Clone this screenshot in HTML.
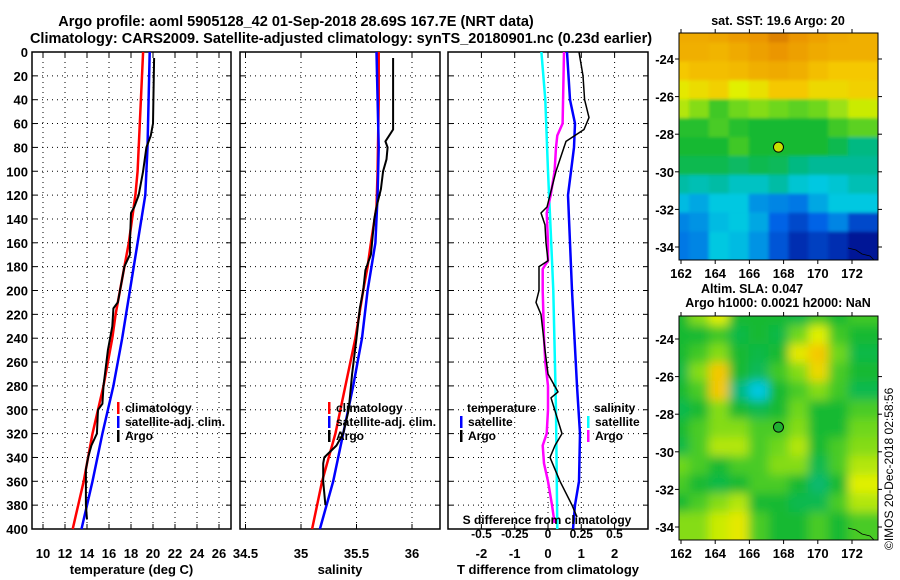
<!DOCTYPE html>
<html><head><meta charset="utf-8"><style>
body{margin:0;background:#fff}
svg{display:block;font-family:"Liberation Sans",sans-serif;font-weight:bold}
</style></head><body>
<svg id="c" width="900" height="580" viewBox="0 0 900 580" xmlns="http://www.w3.org/2000/svg">
<defs>
<filter id="blur"><feGaussianBlur stdDeviation="5"/></filter>
<filter id="blur1"><feGaussianBlur stdDeviation="1.5"/></filter>
<clipPath id="clip1"><rect x="679" y="33" width="199" height="227"/></clipPath>
<clipPath id="clip2"><rect x="679" y="316" width="199" height="224"/></clipPath>
<clipPath id="clip3"><rect x="448" y="52" width="200" height="477"/></clipPath>
</defs>
<text x="296" y="26" font-size="14.5" text-anchor="middle">Argo profile: aoml 5905128_42 01-Sep-2018 28.69S 167.7E (NRT data)</text>
<text x="341" y="43" font-size="14.5" text-anchor="middle">Climatology: CARS2009. Satellite-adjusted climatology: synTS_20180901.nc (0.23d earlier)</text>
<text x="778" y="25" font-size="12.5" text-anchor="middle">sat. SST: 19.6 Argo: 20</text>
<text x="752" y="293" font-size="12.5" text-anchor="middle">Altim. SLA: 0.047</text>
<text x="778" y="307" font-size="12.5" text-anchor="middle">Argo h1000: 0.0021 h2000: NaN</text>
<text transform="translate(893,550) rotate(-90)" font-size="12" font-weight="normal">©IMOS 20-Dec-2018 02:58:56</text>
<g id="g"></g>
</svg>
<script>
// ---- profile data ----
const tClimDepth=[0,20,40,60,80,100,120,140,160,180,200,220,240,260,280,300,320,340,360,380,400];
const tClim=[19.1,19.0,18.9,18.8,18.7,18.6,18.4,18.1,17.8,17.4,17.0,16.6,16.3,15.9,15.5,15.0,14.5,14.1,13.7,13.2,12.7];
const tSatDepth=[0,40,80,120,160,200,240,280,320,360,400];
const tSat=[19.7,19.6,19.5,19.3,18.6,17.9,17.2,16.4,15.4,14.5,13.5];
const tArgoDepth=[5,60,70,80,100,120,130,135,160,170,180,190,200,210,215,230,250,280,295,300,320,330,340,350,380,392];
const tArgo=[20.1,20.0,19.8,19.4,19.1,18.7,18.3,18.0,17.9,17.9,17.4,17.2,17.0,16.8,16.4,16.3,15.9,15.5,15.4,15.0,14.9,14.4,14.1,13.9,13.9,14.0];
const sClimDepth=[0,40,100,130,160,180,200,240,280,320,360,400];
const sClim=[35.70,35.70,35.69,35.68,35.63,35.60,35.56,35.49,35.40,35.31,35.19,35.10];
const sSatDepth=[0,40,80,120,160,200,240,280,320,360,400];
const sSat=[35.68,35.69,35.70,35.69,35.67,35.60,35.55,35.47,35.38,35.29,35.17];
const sArgoDepth=[5,65,75,80,90,100,115,130,140,170,183,200,215,240,270,300,320,330,340,345,360,380];
const sArgo=[35.83,35.83,35.76,35.78,35.77,35.74,35.72,35.68,35.66,35.63,35.58,35.56,35.53,35.50,35.46,35.43,35.38,35.32,35.21,35.20,35.20,35.22];
const dTSatDepth=[0,40,60,80,120,200,280,320,360,380,400];
const dTSat=[0.57,0.66,0.81,0.78,0.60,0.72,0.87,0.96,0.93,0.81,0.75];
const dTArgoDepth=[0,20,40,55,65,75,90,100,110,120,130,135,145,160,175,180,200,210,220,250,270,285,290,320,330,340,360,380,390];
const dTArgo=[0.93,1.05,1.1,1.23,1.08,0.54,0.36,0.24,0.15,0.06,-0.03,-0.21,-0.09,-0.06,0.0,-0.27,-0.27,-0.36,-0.21,-0.09,0.0,0.30,0.09,0.42,0.21,0.06,0.36,0.72,0.87];
const dSSatDepth=[0,40,100,150,200,300,400];
const dSSat=[-0.05,-0.02,0.0,0.02,0.04,0.06,0.07];
const dSArgoDepth=[0,60,70,80,100,120,130,135,160,175,182,200,240,260,280,300,320,330,345,360,380,395];
const dSArgo=[0.12,0.11,0.07,0.06,0.05,0.02,0.0,-0.01,0.0,0.0,-0.04,-0.04,-0.03,-0.02,0.0,0.0,-0.01,-0.04,-0.03,0.0,0.03,0.05];
const depthTicks=[0,20,40,60,80,100,120,140,160,180,200,220,240,260,280,300,320,340,360,380,400];
const tTicks=[10,12,14,16,18,20,22,24,26];
const sTicks=[34.5,35,35.5,36];
const dTTicks=[-2,-1,0,1,2];
const dSTicks=[-0.5,-0.25,0,0.25,0.5];
const lonTicks=[162,164,166,168,170,172];
const latTicks=[-24,-26,-28,-30,-32,-34];
const argoLon=167.7, argoLat=-28.69;
// ---- map grids (colormap index 0..1) ----
const sstGrid=[
[.86,.86,.87,.89,.9,.94,.9,.88,.86,.85],
[.85,.85,.84,.86,.88,.9,.88,.86,.85,.85],
[.8,.82,.82,.83,.85,.86,.85,.82,.8,.8],
[.72,.75,.78,.7,.74,.8,.8,.76,.76,.78],
[.66,.62,.55,.6,.62,.6,.58,.6,.64,.68],
[.52,.52,.56,.52,.5,.5,.5,.5,.55,.58],
[.5,.5,.5,.55,.5,.5,.5,.5,.47,.42],
[.47,.47,.47,.45,.47,.46,.42,.4,.4,.4],
[.38,.36,.38,.34,.34,.38,.32,.3,.32,.36],
[.28,.25,.3,.3,.22,.2,.18,.25,.3,.3],
[.2,.22,.28,.3,.25,.15,.1,.15,.2,.1],
[.18,.2,.3,.28,.22,.12,.05,.08,.05,0]];
const slaGrid=[
[.5,.62,.7,.5,.5,.5,.48,.55,.5,.55],
[.5,.5,.55,.48,.5,.48,.6,.7,.55,.5],
[.5,.55,.62,.5,.48,.5,.72,.8,.6,.48],
[.48,.62,.8,.5,.46,.55,.62,.76,.56,.5],
[.5,.56,.8,.42,.3,.5,.56,.62,.55,.47],
[.47,.5,.62,.5,.47,.5,.6,.5,.5,.56],
[.5,.56,.62,.62,.56,.56,.62,.5,.5,.6],
[.48,.56,.66,.66,.56,.6,.66,.5,.56,.62],
[.6,.56,.5,.56,.56,.62,.62,.47,.56,.66],
[.56,.5,.48,.5,.56,.56,.5,.44,.5,.7],
[.5,.56,.62,.66,.5,.5,.47,.47,.56,.66],
[.62,.62,.68,.72,.56,.5,.5,.56,.5,.56]];

const NS='http://www.w3.org/2000/svg', G=document.getElementById('g');
function el(t,a,p){const e=document.createElementNS(NS,t);for(const k in a)e.setAttribute(k,a[k]);(p||G).appendChild(e);return e;}
const yD=d=>52+d*477/400;
const xT=v=>43+(v-10)*11;
const xS=v=>301+(v-35)*111;
const xDT=v=>548+v*33.3;
const xDS=v=>548+v*133;

function panel(x0,x1,xs,ticks,lbls,name,title,showDepth){
  const r=el('rect',{x:x0,y:52,width:x1-x0,height:477,fill:'#fff',stroke:'#000','stroke-width':1.5});
  
  depthTicks.forEach(d=>{const y=yD(d);
    if(d>0&&d<400){const l=el('line',{x1:x0,x2:x1,y1:y,y2:y,stroke:'#000','stroke-dasharray':'1,4'});
    }
    el('line',{x1:x0,x2:x0+5,y1:y,y2:y,stroke:'#000'});el('line',{x1:x1-5,x2:x1,y1:y,y2:y,stroke:'#000'});
    if(showDepth){const t=el('text',{x:28,y:y+5,'font-size':13,'text-anchor':'end'});t.textContent=d;
      }
  });
  ticks.forEach((v,i)=>{const x=xs(v);
    if(x>x0+2&&x<x1-2){const l=el('line',{x1:x,x2:x,y1:52,y2:529,stroke:'#000','stroke-dasharray':'1,4'});
    }
    el('line',{x1:x,x2:x,y1:529,y2:524,stroke:'#000'});el('line',{x1:x,x2:x,y1:52,y2:57,stroke:'#000'});
    const t=el('text',{x:x,y:558,'font-size':13,'text-anchor':'middle'});t.textContent=lbls[i];
    
  });
  const tt=el('text',{x:(x0+x1)/2,y:574,'font-size':13,'text-anchor':'middle'});tt.textContent=title;
  
}
function line(depths,vals,xs,color,w,name,clip){
  const pts=depths.map((d,i)=>xs(vals[i]).toFixed(1)+','+yD(d).toFixed(1)).join(' ');
  const p=el('polyline',{points:pts,fill:'none',stroke:color,'stroke-width':w,'stroke-linejoin':'round'});
  if(clip)p.setAttribute('clip-path','url(#clip3)');
  
}
function legend(x,y,color,text,name){
  el('rect',{x:x,y:y-10,width:2.5,height:12,fill:color});
  const t=el('text',{x:x+8,y:y,'font-size':12});t.textContent=text;
  
}
panel(32,231,xT,tTicks,tTicks.map(String),'temperature-panel','temperature (deg C)',true);
line(tClimDepth,tClim,xT,'#f00',2.5,'temp-climatology-line');
line(tSatDepth,tSat,xT,'#00f',2.5,'temp-satellite-adj-line');
line(tArgoDepth,tArgo,xT,'#000',2,'temp-argo-line');
legend(117,412,'#f00','climatology','legend-climatology');
legend(117,426,'#00f','satellite-adj. clim.','legend-satellite-adj');
legend(117,440,'#000','Argo','legend-argo');

panel(240,440,xS,sTicks,['34.5','35','35.5','36'],'salinity-panel','salinity',false);
line(sClimDepth,sClim,xS,'#f00',2.5,'sal-climatology-line');
line(sSatDepth,sSat,xS,'#00f',2.5,'sal-satellite-adj-line');
line(sArgoDepth,sArgo,xS,'#000',2,'sal-argo-line');
legend(328,412,'#f00','climatology','legend-climatology-sal');
legend(328,426,'#00f','satellite-adj. clim.','legend-satellite-adj-sal');
legend(328,440,'#000','Argo','legend-argo-sal');

panel(448,648,xDT,dTTicks,dTTicks.map(String),'difference-panel','T difference from climatology',false);
line(dSSatDepth,dSSat,xDS,'#0ff',2.5,'sdiff-satellite-line',true);
line(dSArgoDepth,dSArgo,xDS,'#f0f',2.5,'sdiff-argo-line',true);
line(dTSatDepth,dTSat,xDT,'#00f',2.5,'tdiff-satellite-line',true);
line(dTArgoDepth,dTArgo,xDT,'#000',1.5,'tdiff-argo-line',true);
{let t=el('text',{x:467,y:412,'font-size':12});t.textContent='temperature';
t=el('text',{x:594,y:412,'font-size':12});t.textContent='salinity';}
legend(460,426,'#00f','satellite','legend-t-satellite');
legend(460,440,'#000','Argo','legend-t-argo');
legend(587,426,'#0ff','satellite','legend-s-satellite');
legend(587,440,'#f0f','Argo','legend-s-argo');
{const t=el('text',{x:547,y:524,'font-size':12,'text-anchor':'middle'});t.textContent='S difference from climatology';
}
dSTicks.forEach(v=>{const t=el('text',{x:xDS(v),y:538,'font-size':12,'text-anchor':'middle'});t.textContent=String(v);
});

// ---- colormap ----
const stops=[[0,[0,20,150]],[.15,[0,100,230]],[.3,[0,200,225]],[.4,[0,185,150]],[.5,[20,185,50]],[.6,[110,215,30]],[.7,[225,240,0]],[.8,[245,200,0]],[.9,[235,150,0]],[1,[200,100,0]]];
function cmap(v){for(let i=1;i<stops.length;i++){if(v<=stops[i][0]){const a=stops[i-1],b=stops[i],f=(v-a[0])/(b[0]-a[0]);
return 'rgb('+a[1].map((c,k)=>Math.round(c+(b[1][k]-c)*f)).join(',')+')';}}return 'rgb(200,100,0)';}

function map(grid,x0,y0,w,h,lat24y,latscale,name,blur){
  const xL=lo=>681+(lo-162)*17.1, yL=la=>lat24y+(-24-la)*latscale;
  const g=el('g',{'clip-path':blur?'url(#clip2)':'url(#clip1)'});
  const g2=el('g',{filter:blur?'url(#blur)':'url(#blur1)'},g);
  const rows=grid.length,cols=grid[0].length,cw=w/cols,ch=h/rows;
  grid.forEach((row,r)=>row.forEach((v,c)=>{
    const e=el('rect',{x:x0+c*cw-cw*0.5,y:y0+r*ch-ch*0.5,width:cw*2,height:ch*2,fill:cmap(v)},g2);
    
  }));
  // redraw exact cells on top for non-blurred map edges
  const f=el('rect',{x:x0,y:y0,width:w,height:h,fill:'none',stroke:'#000','stroke-width':1});
  
  lonTicks.forEach(lo=>{const x=xL(lo);el('line',{x1:x,x2:x,y1:y0+h,y2:y0+h+4,stroke:'#000'});el('line',{x1:x,x2:x,y1:y0,y2:y0-4,stroke:'#000'});
    const t=el('text',{x:x,y:y0+h+18,'font-size':13,'text-anchor':'middle'});t.textContent=lo;
    });
  latTicks.forEach(la=>{const y=yL(la);el('line',{x1:x0-4,x2:x0,y1:y,y2:y,stroke:'#000'});el('line',{x1:x0+w,x2:x0+w+4,y1:y,y2:y,stroke:'#000'});
    const t=el('text',{x:x0-5,y:y+5,'font-size':13,'text-anchor':'end'});t.textContent=la;
    });
  const m=el('circle',{cx:xL(argoLon),cy:yL(argoLat),r:5,fill:blur?'#20b030':'#c8e000',stroke:'#000','stroke-width':1});
  
  el('path',{d:`M${x0+w-30} ${y0+h-12} l8 2 l6 4 l8 2 l4 4`,fill:'none',stroke:'#000','stroke-width':0.8});
}
map(sstGrid,679,33,199,227,59,18.8,'sst-map',false);
map(slaGrid,679,316,199,224,339,18.8,'sla-map',true);
</script>
</body></html>
